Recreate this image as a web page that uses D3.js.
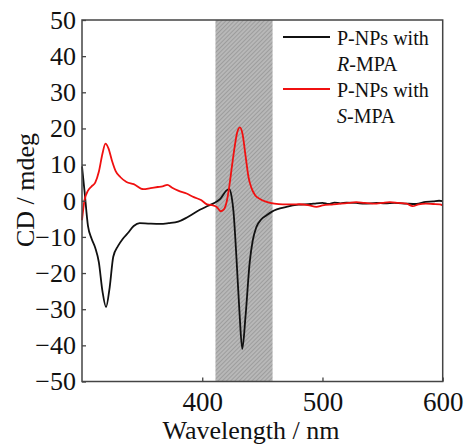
<!DOCTYPE html>
<html>
<head>
<meta charset="utf-8">
<script src="https://cdn.jsdelivr.net/npm/d3@7"></script>
<style>
  body { margin: 0; background: #fff; }
  svg { display: block; }
  text { font-family: "Liberation Serif", "Times New Roman", serif; fill: #111; }
</style>
</head>
<body>
<svg id="chart" width="467" height="444"></svg>
<script>
// CD spectra
const rWave = [300, 302, 305, 308, 311, 314, 317, 320, 323, 326, 330, 334, 338, 343, 348, 355, 365, 372, 380, 388,
  398, 405, 410, 415, 420, 422.5, 424.5, 426, 428.5, 431, 433.3, 436, 439.5, 442, 445, 449, 453.5, 458, 462, 470,
  480, 490, 495, 500, 505, 510, 515, 520, 528, 535, 545, 552, 560, 570, 578, 586, 592, 597, 600];
const rCD = [9.5, 3, -7, -10.5, -13, -17, -25, -29.4, -24, -15.5, -12.5, -10.5, -9, -7, -6.2, -6.3, -6.4, -6.2, -5.8, -4.5,
  -2.5, -1.4, -0.6, 0.5, 2.8, 3.2, 1, -3, -16, -31, -41, -32, -17, -11, -7.3, -5.2, -4, -3, -2.4, -1.7,
  -1.1, -0.9, -0.7, -0.6, -0.9, -0.5, -0.7, -0.5, -0.6, -0.8, -0.6, -0.7, -0.6, -0.8, -0.9, -0.3, -0.2, 0, -0.1];

const sWave = [300, 302, 305, 308, 311, 314, 317, 319.5, 322, 325, 328, 332, 337, 343, 351, 357, 363, 367, 371, 375,
  380, 387, 393, 399, 404, 409, 412, 415.5, 418, 420.5, 422.5, 424.5, 427, 429, 431.3, 433.5, 436, 438.5, 441, 444,
  448, 453.5, 460, 467, 475, 481, 488, 495, 500, 509, 515, 522, 528, 535, 545, 550, 556, 563, 570, 575,
  580, 586, 592, 597.6, 600];
const sCD = [-5.4, 0, 2.8, 4, 5, 8, 13, 15.8, 14.5, 11, 8.2, 6.5, 5.2, 4.6, 3.2, 3.5, 3.8, 4.0, 4.4, 3.6,
  2.8, 2, 1, 0.2, -1, -1.3, -1.7, -2.9, -2.4, 0, 4, 9, 15, 18.8, 20.3, 18.5, 12.5, 6.5, 3.5, 1.5,
  0.5, -0.3, -0.8, -1, -1, -0.97, -1.2, -1.7, -1.3, -1, -0.8, -0.6, -0.4, -0.6, -0.8, -0.6, -0.4, -0.6, -0.8, -1.5,
  -1, -0.8, -0.9, -1, -1.3];

const band = [411, 458.5];
const xTicks = [400, 500, 600];
const yTicks = [-50, -40, -30, -20, -10, 0, 10, 20, 30, 40, 50];
const legendItems = [
  { color: "#111", lines: ["P-NPs with", ["R", "-MPA"]] },
  { color: "#f01010", lines: ["P-NPs with", ["S", "-MPA"]] }
];

const svg = d3.select("#chart");
const mLeft = 82, mRight = 442.7, mTop = 20, mBottom = 381.5;

const x = d3.scaleLinear().domain([300, 600]).range([mLeft, mRight]);
const y = d3.scaleLinear().domain([-50, 50]).range([mBottom, mTop]);

// hatched band
const defs = svg.append("defs");
const pat = defs.append("pattern")
  .attr("id", "hatch")
  .attr("patternUnits", "userSpaceOnUse")
  .attr("width", 3).attr("height", 3)
  .attr("patternTransform", "rotate(45)");
pat.append("rect").attr("width", 3).attr("height", 3).attr("fill", "#b8b8b8");
pat.append("line").attr("x1", 0).attr("y1", 0).attr("x2", 0).attr("y2", 3)
  .attr("stroke", "#8e8e8e").attr("stroke-width", 1.3);

svg.append("rect")
  .attr("x", x(band[0])).attr("y", mTop)
  .attr("width", x(band[1]) - x(band[0])).attr("height", mBottom - mTop)
  .attr("fill", "url(#hatch)");

// curves
const line = d3.line().x(d => x(d[0])).y(d => y(d[1])).curve(d3.curveMonotoneX);
svg.append("path")
  .attr("d", line(d3.zip(rWave, rCD)))
  .attr("fill", "none").attr("stroke", "#111").attr("stroke-width", 1.8);
svg.append("path")
  .attr("d", line(d3.zip(sWave, sCD)))
  .attr("fill", "none").attr("stroke", "#f01010").attr("stroke-width", 1.8);

// frame
svg.append("rect")
  .attr("x", mLeft).attr("y", mTop)
  .attr("width", mRight - mLeft).attr("height", mBottom - mTop)
  .attr("fill", "none").attr("stroke", "#444").attr("stroke-width", 1.5);

// axes (ticks inward)
const xAxis = svg.append("g").attr("transform", `translate(0,${mBottom})`)
  .call(d3.axisBottom(x).tickValues(xTicks).tickSizeInner(-4).tickSizeOuter(0).tickPadding(10));
const yAxis = svg.append("g").attr("transform", `translate(${mLeft},0)`)
  .call(d3.axisLeft(y).tickValues(yTicks).tickSizeInner(-4).tickSizeOuter(0).tickPadding(6));
[xAxis, yAxis].forEach(g => {
  g.select(".domain").remove();
  g.selectAll("line").attr("stroke", "#444").attr("stroke-width", 1.3);
  g.selectAll("text").attr("fill", "#111").style("font-family", "Liberation Serif, serif");
});
xAxis.selectAll("text").style("font-size", "27px");
yAxis.selectAll("text").style("font-size", "26px");

// axis titles
svg.append("text")
  .attr("x", 251).attr("y", 439)
  .attr("text-anchor", "middle").style("font-size", "26px")
  .text("Wavelength / nm");
svg.append("text")
  .attr("transform", "translate(34,190) rotate(-90)")
  .attr("text-anchor", "middle").style("font-size", "26px")
  .text("CD / mdeg");

// legend
const lg = svg.append("g");
legendItems.forEach((it, i) => {
  const base = 45 + i * 52;
  lg.append("line")
    .attr("x1", 283).attr("x2", 330)
    .attr("y1", base - 8).attr("y2", base - 8)
    .attr("stroke", it.color).attr("stroke-width", 1.8);
  lg.append("text").attr("x", 337).attr("y", base).style("font-size", "20px").text(it.lines[0]);
  const t = lg.append("text").attr("x", 337).attr("y", base + 26).style("font-size", "20px");
  t.append("tspan").style("font-style", "italic").text(it.lines[1][0]);
  t.append("tspan").text(it.lines[1][1]);
});
</script>
</body>
</html>
